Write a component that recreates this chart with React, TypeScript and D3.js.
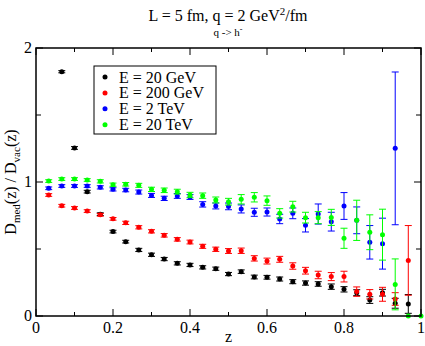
import React from "react";
import * as d3 from "d3";

// z bins (1/30 spacing)
const zBins = [0.033, 0.067, 0.1, 0.133, 0.167, 0.2, 0.233, 0.267, 0.3, 0.333, 0.367, 0.4, 0.433, 0.467, 0.5,
  0.533, 0.567, 0.6, 0.633, 0.667, 0.7, 0.733, 0.767, 0.8, 0.833, 0.867, 0.9, 0.933, 0.967, 1.0];

// E = 20 GeV (starts at 2nd bin)
const e20GeV = [1.823, 1.254, 0.928, 0.76, 0.63, 0.555, 0.493, 0.457, 0.425, 0.393, 0.381, 0.363, 0.353, 0.313,
  0.331, 0.291, 0.289, 0.276, 0.256, 0.246, 0.239, 0.219, 0.199, 0.174, 0.119, 0.174, 0.095, 0.09];
const e20GeVErr = [0.008, 0.01, 0.01, 0.01, 0.01, 0.01, 0.012, 0.012, 0.012, 0.012, 0.012, 0.012, 0.012, 0.012,
  0.013, 0.014, 0.014, 0.015, 0.015, 0.016, 0.017, 0.02, 0.02, 0.022, 0.025, 0.025, 0.037, 0.07];

// E = 200 GeV
const e200GeV = [0.903, 0.823, 0.806, 0.783, 0.755, 0.725, 0.695, 0.662, 0.632, 0.602, 0.572, 0.552, 0.52, 0.498,
  0.485, 0.487, 0.43, 0.41, 0.423, 0.373, 0.338, 0.306, 0.294, 0.294, 0.182, 0.162, 0.162, 0.127, 0.415];
const e200GeVErr = [0.01, 0.01, 0.01, 0.01, 0.01, 0.01, 0.012, 0.012, 0.012, 0.013, 0.013, 0.014, 0.015, 0.016,
  0.018, 0.02, 0.02, 0.022, 0.022, 0.024, 0.025, 0.028, 0.03, 0.04, 0.035, 0.035, 0.052, 0.047, 0.26];

// E = 2 TeV
const e2TeV = [0.953, 0.97, 0.97, 0.97, 0.96, 0.945, 0.94, 0.925, 0.9, 0.878, 0.896, 0.888, 0.833, 0.821, 0.818,
  0.799, 0.774, 0.776, 0.724, 0.766, 0.677, 0.761, 0.704, 0.821, 0.714, 0.55, 0.54, 1.251];
const e2TeVErr = [0.01, 0.01, 0.01, 0.01, 0.012, 0.012, 0.013, 0.015, 0.015, 0.016, 0.018, 0.018, 0.02, 0.022,
  0.025, 0.03, 0.03, 0.03, 0.035, 0.04, 0.05, 0.075, 0.07, 0.1, 0.1, 0.125, 0.19, 0.57];

// E = 20 TeV
const e20TeV = [1.007, 1.022, 1.022, 1.015, 1.005, 0.98, 0.983, 0.975, 0.945, 0.938, 0.928, 0.903, 0.898, 0.866,
  0.853, 0.871, 0.886, 0.861, 0.766, 0.816, 0.734, 0.734, 0.736, 0.58, 0.714, 0.625, 0.607, 0.236, 0, 0];
const e20TeVErr = [0.01, 0.01, 0.01, 0.01, 0.012, 0.012, 0.013, 0.015, 0.016, 0.017, 0.018, 0.02, 0.02, 0.022,
  0.025, 0.035, 0.035, 0.035, 0.035, 0.04, 0.04, 0.045, 0.06, 0.075, 0.15, 0.13, 0.19, 0.19, 0, 0];

const series = [
  { label: "E = 20 GeV", color: "#000000", start: 1, values: e20GeV, errs: e20GeVErr },
  { label: "E = 200 GeV", color: "#ff0000", start: 0, values: e200GeV, errs: e200GeVErr },
  { label: "E = 2 TeV", color: "#0000ff", start: 0, values: e2TeV, errs: e2TeVErr },
  { label: "E = 20 TeV", color: "#00ff00", start: 0, values: e20TeV, errs: e20TeVErr },
];

const xTicks = [0, 0.2, 0.4, 0.6, 0.8, 1];
const xTickLabels = ["0", "0.2", "0.4", "0.6", "0.8", "1"];
const yTicks = [0, 1, 2];

const width = 425;
const height = 346;
const margin = { top: 48, right: 4, bottom: 30, left: 36 };
const font = "Liberation Serif";

export default function App() {
  const x = d3.scaleLinear().domain([0, 1]).range([margin.left, width - margin.right]);
  const y = d3.scaleLinear().domain([0, 2]).range([height - margin.bottom, margin.top]);
  const [x0, x1] = x.range();
  const [y0, y1] = y.range();

  const xMinor = d3.range(0, 1.0001, 0.1);
  const yMinor = d3.range(0, 2.0001, 0.5);

  return (
    <svg width={width} height={height} style={{ position: "absolute", left: 0, top: 0 }}>
      <rect x={0} y={0} width={width} height={height} fill="#fff" />

      <g fontFamily={font} fill="#000">
        {/* title */}
        <text x={228} y={21} textAnchor="middle" fontSize={16}>
          L = 5 fm, q = 2 GeV<tspan dy={-6} fontSize={11}>2</tspan><tspan dy={6}>/fm</tspan>
        </text>
        <text x={228} y={36} textAnchor="middle" fontSize={11}>
          q -&gt; h<tspan dy={-4} fontSize={8}>-</tspan>
        </text>

        {/* tick labels */}
        {xTicks.map((t, i) => (
          <text key={"xl" + i} x={x(t)} y={y0 + 17} textAnchor="middle" fontSize={16}>{xTickLabels[i]}</text>
        ))}
        {yTicks.map((t) => (
          <text key={"yl" + t} x={x0 - 4} y={y(t) + 5} textAnchor="end" fontSize={16}>{t}</text>
        ))}

        {/* axis labels */}
        <text x={x(0.5)} y={342} textAnchor="middle" fontSize={16}>z</text>
        <text transform={`translate(16,${y(1)}) rotate(-90)`} textAnchor="middle" fontSize={16}>
          D<tspan dy={4} fontSize={11}>med</tspan><tspan dy={-4}>(z) / D</tspan><tspan dy={4} fontSize={11}>vac</tspan><tspan dy={-4}>(z)</tspan>
        </text>
      </g>

      {/* ticks */}
      {xMinor.map((t, i) => {
        const len = i % 2 === 0 ? 7 : 4;
        return (
          <g key={"xt" + i} stroke="#000" strokeWidth={1}>
            <line x1={x(t)} x2={x(t)} y1={y0} y2={y0 - len} />
            <line x1={x(t)} x2={x(t)} y1={y1} y2={y1 + len} />
          </g>
        );
      })}
      {yMinor.map((t, i) => {
        const len = i % 2 === 0 ? 7 : 5;
        return (
          <g key={"yt" + i} stroke="#000" strokeWidth={1}>
            <line x1={x0} x2={x0 + len} y1={y(t)} y2={y(t)} />
            <line x1={x1} x2={x1 - len} y1={y(t)} y2={y(t)} />
          </g>
        );
      })}

      {/* data */}
      {series.map((s) => (
        <g key={s.label} stroke={s.color} fill={s.color}>
          {s.values.map((v, i) => {
            const z = zBins[s.start + i];
            const e = s.errs[i];
            const cx = x(z);
            return (
              <g key={i}>
                {e > 0 && (
                  <>
                    <line x1={cx} x2={cx} y1={y(v - e)} y2={y(v + e)} strokeWidth={1} />
                    <line x1={cx - 3.5} x2={cx + 3.5} y1={y(v - e)} y2={y(v - e)} strokeWidth={1} />
                    <line x1={cx - 3.5} x2={cx + 3.5} y1={y(v + e)} y2={y(v + e)} strokeWidth={1} />
                  </>
                )}
                <circle cx={cx} cy={y(v)} r={2.5} stroke="none" />
              </g>
            );
          })}
        </g>
      ))}

      {/* frame */}
      <rect x={x0} y={y1} width={x1 - x0} height={y0 - y1} fill="none" stroke="#000" strokeWidth={1.5} />

      {/* legend */}
      <rect x={94} y={66} width={122} height={68} fill="#fff" stroke="#000" strokeWidth={1} />
      {series.map((s, i) => (
        <g key={"lg" + i}>
          <circle cx={105} cy={77 + i * 15.9} r={2.5} fill={s.color} />
          <text x={119} y={82.5 + i * 15.9} fontSize={16} fontFamily={font}>{s.label}</text>
        </g>
      ))}
    </svg>
  );
}
